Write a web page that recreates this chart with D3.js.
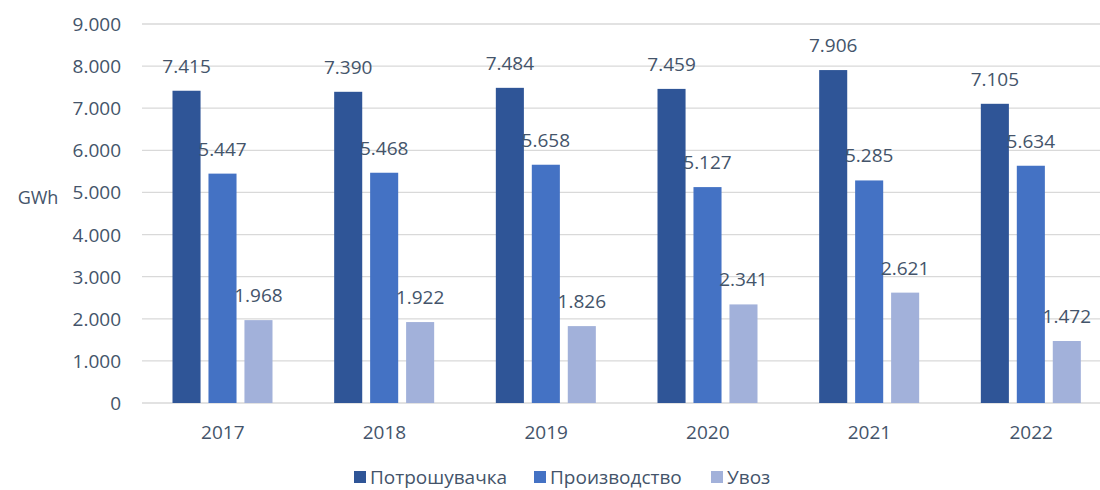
<!DOCTYPE html>
<html>
<head>
<meta charset="utf-8">
<script src="https://cdn.jsdelivr.net/npm/d3@7"></script>
<style>
  body { margin: 0; background: #fff; }
  text { font-family: "Open Sans", "Noto Sans", sans-serif; }
</style>
</head>
<body>
<div id="chart"></div>
<script>
// data
var years = ["2017", "2018", "2019", "2020", "2021", "2022"];
var seriesNames = ["Потрошувачка", "Производство", "Увоз"];
var consumption = [7415, 7390, 7484, 7459, 7906, 7105];
var production = [5447, 5468, 5658, 5127, 5285, 5634];
var imports = [1968, 1922, 1826, 2341, 2621, 1472];
var yTicks = [0, 1000, 2000, 3000, 4000, 5000, 6000, 7000, 8000, 9000];

var colors = ["#2f5597", "#4472c4", "#a2b1da"];
var allSeries = [consumption, production, imports];

var width = 1100, height = 490;
var textColor = "#44546a";

// 7415 -> "7.415"
var fmt = function(v){ return v === 0 ? "0" : (v / 1000).toFixed(3); };

var svg = d3.select("#chart").append("svg")
    .attr("width", width)
    .attr("height", height);

var x0 = d3.scaleBand().domain(years).range([142, 1112]).padding(0);
var x1 = d3.scaleBand().domain([0, 1, 2]).range([30.5, 130.5]).paddingInner(0.22);
var y = d3.scaleLinear().domain([0, 9000]).range([403, 24]);

// gridlines
svg.append("g")
    .selectAll("line")
    .data(yTicks)
    .enter()
    .append("line")
    .attr("x1", 142)
    .attr("x2", 1100)
    .attr("y1", function(d){ return y(d); })
    .attr("y2", function(d){ return y(d); })
    .attr("stroke", "#d9d9d9")
    .attr("stroke-width", 1.3);

// y tick labels
svg.append("g")
    .selectAll("text")
    .data(yTicks)
    .enter()
    .append("text")
    .attr("x", 121)
    .attr("y", function(d){ return y(d) + 7; })
    .attr("text-anchor", "end")
    .attr("font-size", 19)
    .attr("fill", textColor)
    .text(fmt);

svg.append("text")
    .attr("x", 38)
    .attr("y", 204)
    .attr("text-anchor", "middle")
    .attr("font-size", 18)
    .attr("fill", textColor)
    .text("GWh");

// bars
var groups = svg.selectAll("g.year")
    .data(years)
    .enter()
    .append("g")
    .attr("class", "year")
    .attr("transform", function(d){ return "translate(" + x0(d) + ",0)"; });

groups.each(function(yr, i){
    var g = d3.select(this);
    allSeries.forEach(function(s, k){
        g.append("rect")
            .attr("x", x1(k))
            .attr("width", x1.bandwidth())
            .attr("y", y(s[i]))
            .attr("height", y(0) - y(s[i]))
            .attr("fill", colors[k]);
        g.append("text")
            .attr("x", x1(k) + x1.bandwidth() / 2)
            .attr("y", y(s[i]) - 18)
            .attr("text-anchor", "middle")
            .attr("font-size", 19)
            .attr("fill", textColor)
            .text(fmt(s[i]));
    });
    g.append("text")
        .attr("x", x0.bandwidth() / 2)
        .attr("y", 439)
        .attr("text-anchor", "middle")
        .attr("font-size", 19)
        .attr("fill", textColor)
        .text(yr);
});

// legend
var legendX = [354, 534, 711];
var legend = svg.append("g");
seriesNames.forEach(function(name, k){
    legend.append("rect")
        .attr("x", legendX[k])
        .attr("y", 471)
        .attr("width", 12)
        .attr("height", 12)
        .attr("fill", colors[k]);
    legend.append("text")
        .attr("x", legendX[k] + 16)
        .attr("y", 484)
        .attr("font-size", 19)
        .attr("fill", textColor)
        .text(name);
});
</script>
</body>
</html>
